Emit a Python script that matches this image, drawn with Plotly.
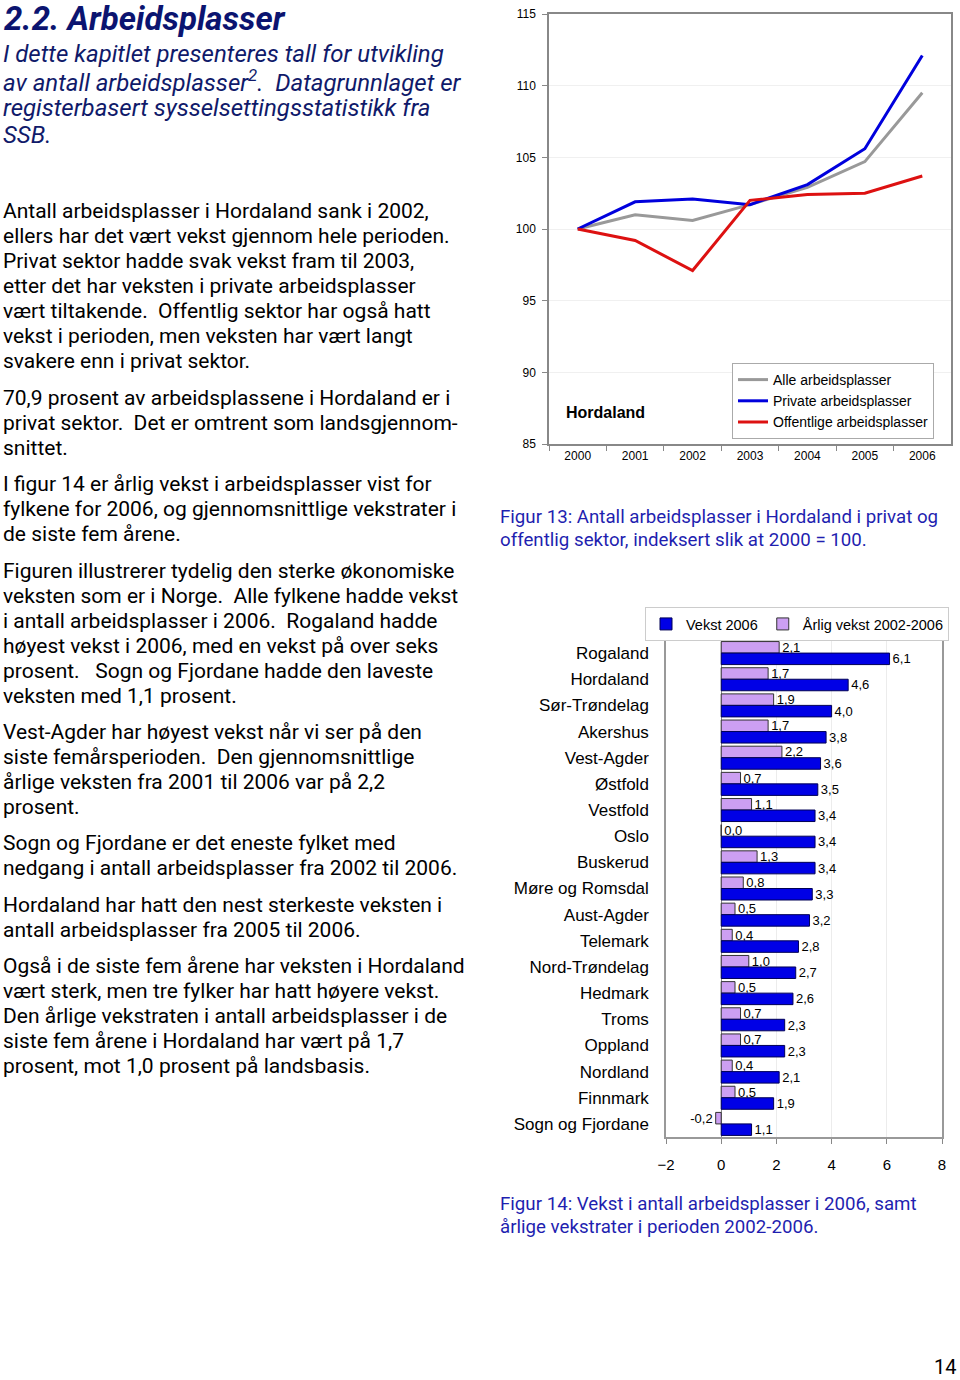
import plotly.graph_objects as go

# ---------------- data ----------------
years = ["2000", "2001", "2002", "2003", "2004", "2005", "2006"]
alle = [100.0, 101.0, 100.6, 101.7, 102.9, 104.7, 109.5]
private = [100.0, 101.9, 102.1, 101.7, 103.1, 105.6, 112.1]
offentlige = [100.0, 99.2, 97.1, 102.0, 102.4, 102.5, 103.7]

fylker = ["Rogaland", "Hordaland", "Sør-Trøndelag", "Akershus", "Vest-Agder",
          "Østfold", "Vestfold", "Oslo", "Buskerud", "Møre og Romsdal",
          "Aust-Agder", "Telemark", "Nord-Trøndelag", "Hedmark", "Troms",
          "Oppland", "Nordland", "Finnmark", "Sogn og Fjordane"]
vekst_2006 = [6.1, 4.6, 4.0, 3.8, 3.6, 3.5, 3.4, 3.4, 3.4, 3.3,
              3.2, 2.8, 2.7, 2.6, 2.3, 2.3, 2.1, 1.9, 1.1]
arlig_vekst = [2.1, 1.7, 1.9, 1.7, 2.2, 0.7, 1.1, 0.0, 1.3, 0.8,
               0.5, 0.4, 1.0, 0.5, 0.7, 0.7, 0.4, 0.5, -0.2]
bar_ticks = [-2, 0, 2, 4, 6, 8]
line_ticks = [85, 90, 95, 100, 105, 110, 115]

title_text = "2.2. Arbeidsplasser"
intro_lines = [
    "I dette kapitlet presenteres tall for utvikling",
    "av antall arbeidsplasser<sup>2</sup>.  Datagrunnlaget er",
    "registerbasert sysselsettingsstatistikk fra",
    "SSB.",
]
paragraphs = [
    (211, ["Antall arbeidsplasser i Hordaland sank i 2002,",
           "ellers har det vært vekst gjennom hele perioden.",
           "Privat sektor hadde svak vekst fram til 2003,",
           "etter det har veksten i private arbeidsplasser",
           "vært tiltakende.  Offentlig sektor har også hatt",
           "vekst i perioden, men veksten har vært langt",
           "svakere enn i privat sektor."]),
    (398, ["70,9 prosent av arbeidsplassene i Hordaland er i",
           "privat sektor.  Det er omtrent som landsgjennom-",
           "snittet."]),
    (484, ["I figur 14 er årlig vekst i arbeidsplasser vist for",
           "fylkene for 2006, og gjennomsnittlige vekstrater i",
           "de siste fem årene."]),
    (571, ["Figuren illustrerer tydelig den sterke økonomiske",
           "veksten som er i Norge.  Alle fylkene hadde vekst",
           "i antall arbeidsplasser i 2006.  Rogaland hadde",
           "høyest vekst i 2006, med en vekst på over seks",
           "prosent.   Sogn og Fjordane hadde den laveste",
           "veksten med 1,1 prosent."]),
    (732, ["Vest-Agder har høyest vekst når vi ser på den",
           "siste femårsperioden.  Den gjennomsnittlige",
           "årlige veksten fra 2001 til 2006 var på 2,2",
           "prosent."]),
    (843, ["Sogn og Fjordane er det eneste fylket med",
           "nedgang i antall arbeidsplasser fra 2002 til 2006."]),
    (905, ["Hordaland har hatt den nest sterkeste veksten i",
           "antall arbeidsplasser fra 2005 til 2006."]),
    (966, ["Også i de siste fem årene har veksten i Hordaland",
           "vært sterk, men tre fylker har hatt høyere vekst.",
           "Den årlige vekstraten i antall arbeidsplasser i de",
           "siste fem årene i Hordaland har vært på 1,7",
           "prosent, mot 1,0 prosent på landsbasis."]),
]
caption13 = ["Figur 13: Antall arbeidsplasser i Hordaland i privat og",
             "offentlig sektor, indeksert slik at 2000 = 100."]
caption14 = ["Figur 14: Vekst i antall arbeidsplasser i 2006, samt",
             "årlige vekstrater i perioden 2002-2006."]

# ---------------- layout helpers ----------------
W, H = 960, 1380


def fx(x):
    return x / W


def fy(y):
    return 1 - y / H


CHART_FONT = "Liberation Sans, Arial, sans-serif"
TEXT_FONT = "Roboto, Noto Sans, sans-serif"

fig = go.Figure()

# ---- line chart ----
line_specs = [
    ("Alle arbeidsplasser", alle, "#999999"),
    ("Private arbeidsplasser", private, "#0000dd"),
    ("Offentlige arbeidsplasser", offentlige, "#dd1111"),
]
for name, vals, col in line_specs:
    fig.add_trace(go.Scatter(
        x=years, y=vals, mode="lines", name=name,
        line=dict(color=col, width=3),
        xaxis="x", yaxis="y", legend="legend",
    ))

# ---- bar chart ----
fmt = lambda v: f"{v:.1f}".replace(".", ",")
fig.add_trace(go.Bar(
    y=fylker, x=arlig_vekst, orientation="h", name="Årlig vekst 2002-2006",
    marker=dict(color="#cc9ff2", line=dict(color="#333333", width=1)),
    text=[fmt(v) for v in arlig_vekst], textposition="outside",
    constraintext="none",
    textfont=dict(family=CHART_FONT, size=13, color="black"),
    cliponaxis=False, xaxis="x2", yaxis="y2", legend="legend2", legendrank=2,
))
fig.add_trace(go.Bar(
    y=fylker, x=vekst_2006, orientation="h", name="Vekst 2006",
    marker=dict(color="#0000e6", line=dict(color="#000055", width=1)),
    text=[fmt(v) for v in vekst_2006], textposition="outside",
    constraintext="none",
    textfont=dict(family=CHART_FONT, size=13, color="black"),
    cliponaxis=False, xaxis="x2", yaxis="y2", legend="legend2", legendrank=1,
))

annotations = []
# title
annotations.append(dict(
    text=f"<b><i>{title_text}</i></b>", x=fx(2), y=fy(18), xref="paper", yref="paper",
    xanchor="left", yanchor="middle", showarrow=False,
    font=dict(family=TEXT_FONT, size=33, color="#0b1470")))
for i, t in enumerate(intro_lines):
    annotations.append(dict(
        text=f"<i>{t}</i>", x=fx(1), y=fy(54 + 27 * i), xref="paper", yref="paper",
        xanchor="left", yanchor="middle", showarrow=False,
        font=dict(family=TEXT_FONT, size=24, color="#101a6a")))
for y0, lines in paragraphs:
    for i, t in enumerate(lines):
        annotations.append(dict(
            text=t, x=fx(1), y=fy(y0 + 25 * i), xref="paper", yref="paper",
            xanchor="left", yanchor="middle", showarrow=False,
            font=dict(family=TEXT_FONT, size=21, color="black")))
for y0, lines in ((517, caption13), (1204, caption14)):
    for i, t in enumerate(lines):
        annotations.append(dict(
            text=t, x=fx(498), y=fy(y0 + 23 * i), xref="paper", yref="paper",
            xanchor="left", yanchor="middle", showarrow=False,
            font=dict(family=TEXT_FONT, size=18.7, color="#1f1fb0")))
# Hordaland label in line chart
annotations.append(dict(
    text="<b>Hordaland</b>", x=fx(564), y=fy(412), xref="paper", yref="paper",
    xanchor="left", yanchor="middle", showarrow=False,
    font=dict(family=CHART_FONT, size=16, color="black")))
# page number
annotations.append(dict(
    text="14", x=fx(945), y=fy(1367), xref="paper", yref="paper",
    xanchor="center", yanchor="middle", showarrow=False,
    font=dict(family=TEXT_FONT, size=20, color="black")))

fig.update_layout(
    width=W, height=H, autosize=False, template="none",
    margin=dict(l=0, r=0, t=0, b=0),
    paper_bgcolor="white", plot_bgcolor="white",
    showlegend=True,
    barmode="group", bargap=0.12, bargroupgap=0.0,
    xaxis=dict(
        domain=[fx(549), fx(951)], anchor="y", type="category",
        range=[-0.5, 6.5], tickson="boundaries", ticks="outside", ticklen=5,
        tickcolor="#888888", showline=True, linecolor="#888888", linewidth=1.5,
        mirror=True, showgrid=False, automargin=False,
        tickfont=dict(family=CHART_FONT, size=12, color="black"),
    ),
    yaxis=dict(
        domain=[fy(444), fy(14)], anchor="x", range=[85, 115],
        tickvals=line_ticks, ticks="outside", ticklen=5, tickcolor="#888888",
        showline=True, linecolor="#888888", linewidth=1.5, mirror=True,
        showgrid=True, gridcolor="#f0f0f0", zeroline=False, automargin=False,
        ticklabelstandoff=4,
        tickfont=dict(family=CHART_FONT, size=12, color="black"),
    ),
    xaxis2=dict(
        domain=[fx(666), fx(942)], anchor="y2", range=[-2, 8],
        tickvals=bar_ticks, ticks="outside", ticklen=5, tickcolor="#888888",
        showline=True, linecolor="#999999", linewidth=1.5, mirror=True,
        showgrid=True, gridcolor="#ececec", zeroline=True,
        zerolinecolor="#888888", zerolinewidth=1, automargin=False,
        ticklabelstandoff=8,
        tickfont=dict(family=CHART_FONT, size=15, color="black"),
    ),
    yaxis2=dict(
        domain=[fy(1137), fy(640)], anchor="x2", type="category",
        autorange="reversed", ticks="", showline=True, linecolor="#999999",
        linewidth=1.5, mirror=True, showgrid=False, automargin=False,
        ticklabelstandoff=12,
        tickfont=dict(family=CHART_FONT, size=17, color="black"),
    ),
    legend=dict(
        x=fx(732), y=fy(363), xanchor="left", yanchor="top",
        bgcolor="white", bordercolor="#aaaaaa", borderwidth=1,
        font=dict(family=CHART_FONT, size=14, color="black"),
        itemwidth=30, tracegroupgap=0,
    ),
    legend2=dict(
        x=fx(645), y=fy(607), xanchor="left", yanchor="top",
        orientation="h", bgcolor="white", bordercolor="#cccccc", borderwidth=1,
        font=dict(family=CHART_FONT, size=14.5, color="black"),
        itemwidth=30, traceorder="normal",
    ),
    annotations=annotations,
)

post = ("document.body.style.margin='0';"
        "document.body.style.padding='0';"
        "document.body.style.overflow='hidden';"
        "document.documentElement.style.overflow='hidden';")
fig.write_html("out.html", config={"responsive": False, "displayModeBar": False},
               post_script=post)
